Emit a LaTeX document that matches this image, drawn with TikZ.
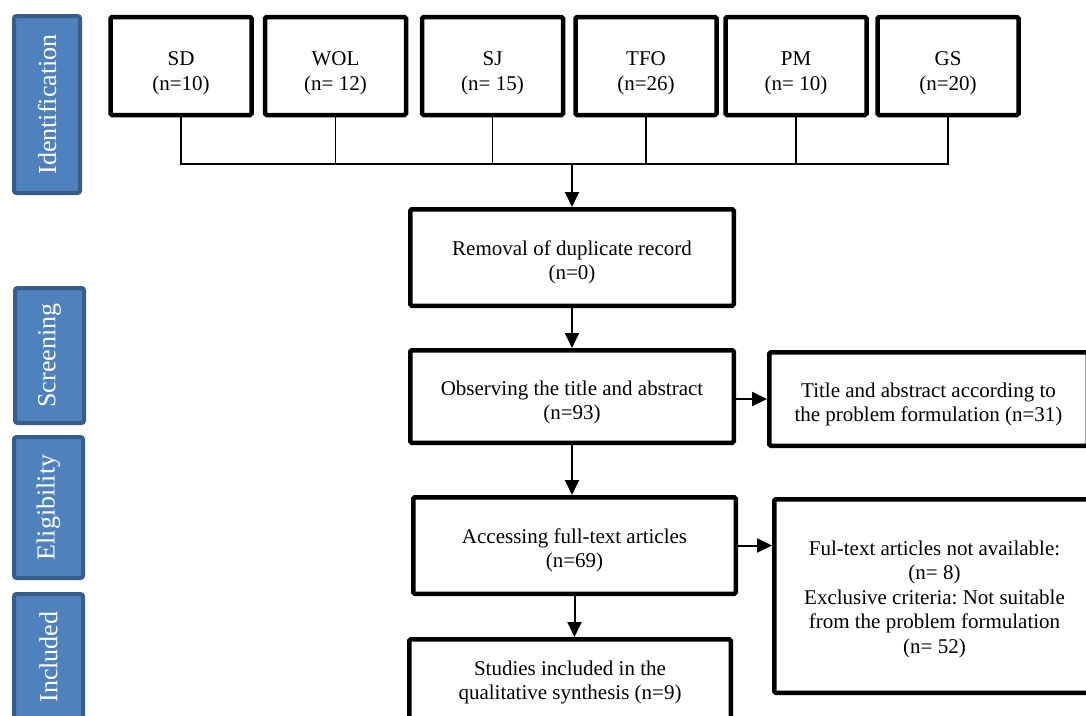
\documentclass[tikz,border=0pt]{standalone}
\usepackage{fontspec}
\setmainfont{Liberation Serif}
\frenchspacing
\usetikzlibrary{arrows.meta,positioning,calc}
\definecolor{stagefill}{RGB}{79,129,189}
\definecolor{stageline}{RGB}{56,93,138}
\newcommand{\lift}[1]{\rule{0pt}{#1}}

\begin{document}
\begin{tikzpicture}[x=1pt,y=-1pt,
  stage/.style={draw=stageline, fill=stagefill, line width=4pt, rounded corners=2.5pt,
    text=white, rotate=90, inner sep=0pt, font=\fontsize{26}{30}\selectfont},
  srcbox/.style={draw, line width=4.5pt, rounded corners=1.5pt, minimum width=141pt,
    minimum height=98pt, align=center, font=\fontsize{21}{25}\selectfont},
  flowbox/.style={draw, line width=4.5pt, rounded corners=1.5pt, inner sep=0pt,
    align=center, font=\fontsize{21}{24.4}\selectfont},
  link/.style={line width=1.8pt},
  flow/.style={line width=2pt, -{Triangle[width=14pt,length=15pt]}}]
  \useasboundingbox (0,0) rectangle (1086,715);
  \clip (0,0) rectangle (1086,715);

  % stages
  \node[stage, minimum width=177pt, minimum height=66pt] (ident) at (47,104.5) {Identification};
  \node[stage, minimum width=135pt, minimum height=69pt] (screen) at (49.5,355.5) {Screening};
  \node[stage, minimum width=141pt, minimum height=69pt] (elig) at (48.5,507.5) {Eligibility};
  \node[stage, minimum width=126pt, minimum height=69pt] (incl) at (48.5,657) {Included};

  % sources
  \node[srcbox] (sd) at (181,66) {\lift{28pt}SD\\(n=10)};
  \node[srcbox] (wol) at (335.5,66) {\lift{28pt}WOL\\(n= 12)};
  \node[srcbox] (sj) at (492.5,66) {\lift{28pt}SJ\\(n= 15)};
  \node[srcbox] (tfo) at (646,66) {\lift{28pt}TFO\\(n=26)};
  \node[srcbox] (pm) at (796,66) {\lift{28pt}PM\\(n= 10)};
  \node[srcbox] (gs) at (948,66) {\lift{28pt}GS\\(n=20)};

  % flow
  \node[flowbox, minimum width=323.5pt, minimum height=96.5pt] (removal) at (572,257.5)
    {\lift{25pt}Removal of duplicate record\\(n=0)};
  \node[flowbox, minimum width=323.5pt, minimum height=92.5pt] (observe) at (572,396.5)
    {\lift{27pt}Observing the title and abstract\\(n=93)};
  \node[flowbox, minimum width=318.5pt, minimum height=93.5pt] (title) at (928.5,399)
    {\lift{25pt}Title and abstract according to\\the problem formulation (n=31)};
  \node[flowbox, minimum width=322.5pt, minimum height=96.5pt] (access) at (574.5,545.5)
    {\lift{24pt}Accessing full-text articles\\(n=69)};
  \node[flowbox, minimum width=320.5pt, minimum height=193.5pt] (fultext) at (934.5,596)
    {\lift{21pt}Ful-text articles not available:\\(n= 8)\\Exclusive criteria: Not suitable\\from the problem formulation\\(n= 52)};
  \node[flowbox, minimum width=321.5pt, minimum height=81.5pt] (studies) at (570,680)
    {\lift{19pt}Studies included in the\\qualitative synthesis (n=9)};

  \coordinate (bus) at (0,164);
  \draw[link] (sd.south) |- (bus -| gs.south) -- (gs.south);
  \foreach \b in {wol,sj,tfo,pm}
    \draw[link] (\b.south) -- (\b.south |- bus);
  \draw[flow] (removal.north |- bus) -- (removal.north);
  \draw[flow] (removal.south) -- (observe.north);
  \draw[flow] (observe.east |- title.west) -- (title.west);
  \draw[flow] (observe.south) -- (observe.south |- access.north);
  \draw[flow] (access.east) -- (access.east -| fultext.west);
  \draw[flow] (access.south) -- (access.south |- studies.north);
\end{tikzpicture}
\end{document}
